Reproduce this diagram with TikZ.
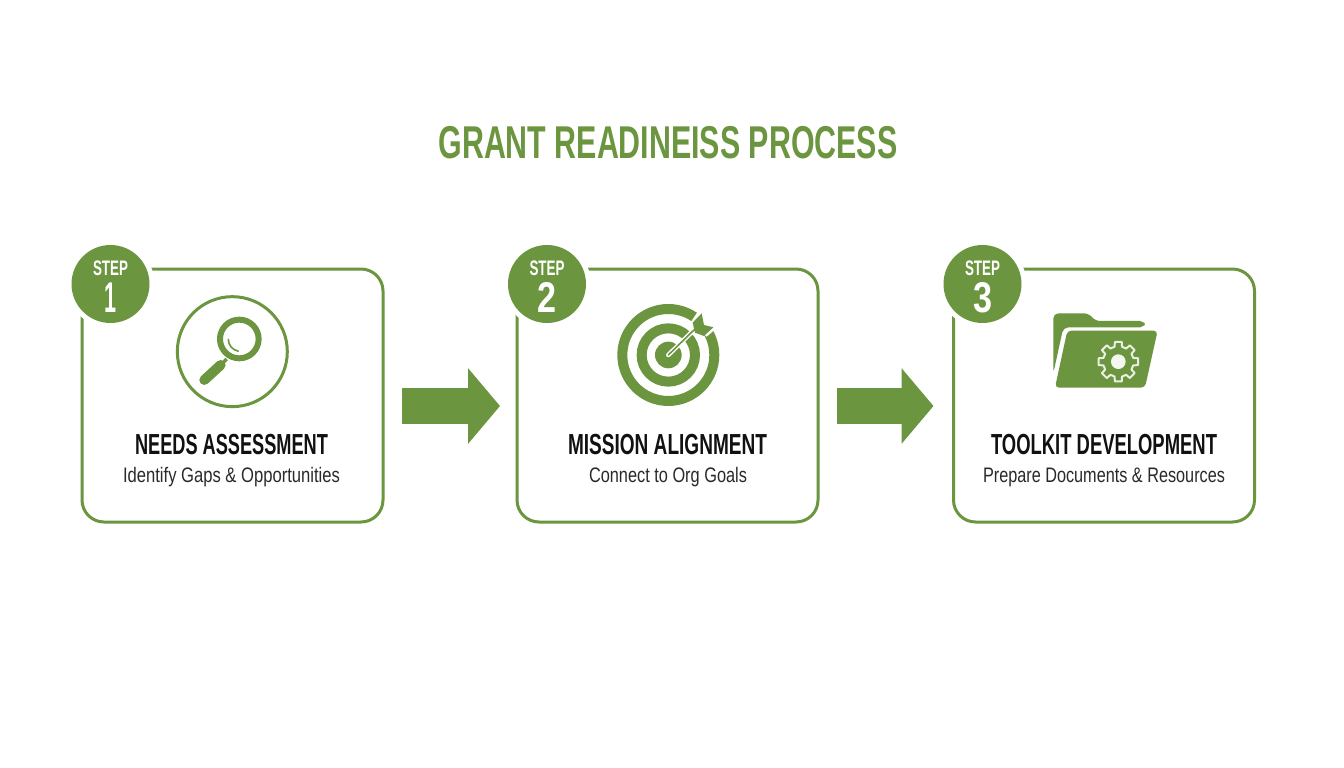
\documentclass[tikz,border=0pt]{standalone}
\usepackage{fontspec}
\usepackage{graphicx}
\usetikzlibrary{arrows.meta}
\setmainfont{Liberation Sans}
\definecolor{leaf}{HTML}{6B963F}
\definecolor{ink}{HTML}{111111}
\definecolor{subink}{HTML}{2A2A2A}
\newcommand{\fit}[3]{\resizebox{#1pt}{\height}{\fontsize{#2}{#2}\selectfont #3}}
\tikzset{
  x=1pt,y=-1pt,
  card/.style={draw=leaf,line width=3pt,rounded corners=22pt,minimum width=301pt,minimum height=253pt,inner sep=0pt,outer sep=0pt,fill=white},
  label/.style={anchor=base,inner sep=0pt,outer sep=0pt},
  badge/.style={circle,fill=leaf,minimum size=78pt,inner sep=0pt},
  halo/.style={circle,fill=white,minimum size=88pt,inner sep=0pt},
  fat/.style={draw=leaf,line width=36pt,-{Triangle[length=32pt,width=74pt]}},
  zoomed/.style={x=0.3333pt,y=-0.3333pt},
}
\begin{document}
\begin{tikzpicture}
\useasboundingbox (0,0) rectangle (1344,768);
\fill[white] (0,0) rectangle (1344,768);
\node[label,text=leaf] (title) at (668,158) {\fit{459}{46pt}{\bfseries GRANT READINEISS PROCESS}};
% cards
\node[card] (c1) at (232.5,395.5) {};
\node[card] (c2) at (667.5,395.5) {};
\node[card] (c3) at (1104,395.5) {};
% badges
\foreach \n/\x/\d in {1/110.5/1,2/547/2,3/982.5/3}{
  \node[halo] (h\n) at (\x,284) {};
  \node[badge] (b\n) at (\x,284) {};
  \node[label,text=white] (s\n) at (\x,275) {\fit{35}{21pt}{\bfseries STEP}};
  \node[label,text=white] (d\n) at (\x,312) {\fit{\ifnum\d=1 12\else 19\fi}{43pt}{\bfseries \d}};
}
% arrows
\draw[fat,shorten <=19pt,shorten >=17pt] ([yshift=-10.5pt]c1.east) -- ([yshift=-10.5pt]c2.west);
\draw[fat,shorten <=19pt,shorten >=20pt] ([yshift=-10.5pt]c2.east) -- ([yshift=-10.5pt]c3.west);
% texts
\node[label,text=ink] (t1) at (231.5,454) {\fit{193}{29pt}{\bfseries NEEDS ASSESSMENT}};
\node[label,text=subink] (u1) at (231.5,482) {\fit{217}{21pt}{Identify Gaps \& Opportunities}};
\node[label,text=ink] (t2) at (667.5,454) {\fit{199}{29pt}{\bfseries MISSION ALIGNMENT}};
\node[label,text=subink] (u2) at (668,482) {\fit{158}{21pt}{Connect to Org Goals}};
\node[label,text=ink] (t3) at (1104,454) {\fit{226}{29pt}{\bfseries TOOLKIT DEVELOPMENT}};
\node[label,text=subink] (u3) at (1104,482) {\fit{242}{21pt}{Prepare Documents \& Resources}};
% icon 1: magnifier
\begin{scope}[shift={(60,240)},zoomed]
  \draw[leaf,line width=3pt] (517,335) circle (165);
  \draw[leaf,line width=6pt] (538,297) circle (58);
  \draw[leaf,line width=1.6pt,line cap=round] (505,298) arc[start angle=180,end angle=100,radius=36];
  \draw[leaf,line width=3.5pt] (500,357) -- (480,378);
  \draw[leaf,line width=10pt,line cap=round] (482,375) -- (433,420);
\end{scope}
% icon 2: target
\begin{scope}[shift={(500,240)},zoomed]
  \draw[leaf,line width=10pt] (505,345) circle (138);
  \draw[leaf,line width=10pt] (505,345) circle (80);
  \fill[leaf] (505,345) circle (40);
  \fill[white] (570,250) -- (600,205) -- (655,260) -- (620,290) -- cycle;
  \draw[white,line width=4.5pt,line cap=round] (505,345) -- (590,262);
  \draw[leaf,line width=1.6pt,line cap=round] (505,345) -- (590,262);
  \fill[leaf] (578,248) -- (605,220) -- (612,255) -- (640,262) -- (612,288) -- (585,278) -- cycle;
\end{scope}
% icon 3: folder
\begin{scope}[shift={(930,240)},zoomed]
  \fill[leaf,rounded corners=5pt] (370,400) -- (370,220) -- (477,220) -- (495,243) -- (645,243) -- (645,262) -- (400,262) -- cycle;
  \fill[leaf,rounded corners=4pt] (412,272) -- (683,272) -- (645,443) -- (375,443) -- cycle;
  \begin{scope}[shift={(565,365)}]
  \draw[white!85!leaf,line width=2pt,line join=round,fill=leaf]
    \foreach \a [count=\i] in {0,45,...,315}{
      \ifnum\i=1 (\a-14:46)\else -- (\a-14:46)\fi -- (\a-10:60) -- (\a+10:60) -- (\a+14:46) -- (\a+31:46)
    } -- cycle;
  \fill[white!92!leaf] (0,0) circle (22);
  \end{scope}
\end{scope}
\end{tikzpicture}
\end{document}
